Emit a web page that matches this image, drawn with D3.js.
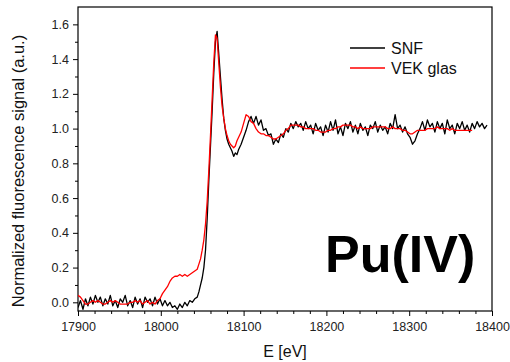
<!DOCTYPE html>
<html>
<head>
<meta charset="utf-8">
<script src="https://cdn.jsdelivr.net/npm/d3@7"></script>
<style>
  body { margin: 0; background: #fff; }
  svg { display: block; font-family: "Liberation Sans", Arial, sans-serif; }
</style>
</head>
<body>
<svg id="chart" width="510" height="362"></svg>
<script>
// energy grid [eV] shared by both spectra
const energy = [
  17900, 17903, 17906, 17909, 17912, 17915, 17918, 17921, 17924, 17927,
  17930, 17933, 17936, 17939, 17942, 17945, 17948, 17951, 17954, 17957,
  17960, 17963, 17966, 17969, 17972, 17975, 17978, 17981, 17984, 17987,
  17990, 17993, 17996, 17999, 18002, 18005, 18008, 18011, 18014, 18017,
  18020, 18023, 18026, 18029, 18032, 18035, 18038, 18041, 18044,
  18046, 18048, 18050, 18052, 18054, 18056, 18058, 18060, 18062, 18064,
  18066, 18068, 18070, 18072, 18074, 18076, 18078, 18080, 18082, 18084,
  18086, 18088, 18090, 18092, 18094,
  18097, 18100, 18103, 18106, 18109, 18112, 18115, 18118, 18121, 18124,
  18127, 18130, 18133, 18136, 18139, 18142, 18145, 18148, 18151, 18154,
  18157, 18160, 18163, 18166, 18169, 18172, 18175, 18178, 18181, 18184,
  18187, 18190, 18193, 18196, 18199, 18202, 18205, 18208, 18211, 18214,
  18217, 18220, 18223, 18226, 18229, 18232, 18235, 18238, 18241, 18244,
  18247, 18250, 18253, 18256, 18259, 18262, 18265, 18268, 18271, 18274,
  18277, 18280, 18283, 18286, 18289, 18292, 18295, 18298, 18301, 18304,
  18307, 18310, 18313, 18316, 18319, 18322, 18325, 18328, 18331, 18334,
  18337, 18340, 18343, 18346, 18349, 18352, 18355, 18358, 18361, 18364,
  18367, 18370, 18373, 18376, 18379, 18382, 18385, 18388, 18391, 18394
];

// SNF (black)
const snf = [
  -0.03, 0.01, -0.04, 0.02, -0.02, 0.03, -0.01, 0.04, 0.00, 0.03,
  -0.02, 0.02, -0.01, 0.04, -0.02, 0.01, -0.03, 0.02, 0.00, 0.04,
  -0.02, 0.01, -0.03, 0.03, -0.01, 0.02, -0.03, 0.03, 0.00, 0.02,
  -0.02, 0.03, -0.01, 0.02, -0.02, 0.01, -0.02, 0.00, -0.03, -0.02,
  -0.04, -0.01, -0.03, 0.00, -0.02, 0.01, 0.00, 0.02, 0.03,
  0.06, 0.10, 0.14, 0.20, 0.30, 0.48, 0.70, 0.90, 1.10, 1.32,
  1.50, 1.56, 1.43, 1.30, 1.17, 1.06, 0.99, 0.94, 0.91, 0.89,
  0.87, 0.84, 0.86, 0.85, 0.88,
  0.91, 0.95, 0.99, 1.04, 1.07, 1.03, 1.07, 1.02, 1.05, 0.99,
  1.00, 0.96, 0.97, 0.91, 0.94, 0.92, 0.97, 0.95, 1.00, 0.98,
  1.03, 1.00, 1.04, 1.01, 1.03, 0.99, 1.04, 1.00, 1.02, 0.97,
  1.03, 0.99, 1.01, 0.96, 1.02, 0.98, 1.04, 0.99, 1.05, 0.97,
  1.01, 0.96, 1.03, 1.00, 1.04, 0.98, 1.02, 0.97, 1.03, 0.99,
  1.01, 0.96, 1.02, 1.00, 1.04, 0.98, 1.02, 0.99, 1.01, 0.97,
  1.03, 1.00, 1.08, 1.00, 1.02, 0.98, 1.01, 0.97, 0.95, 0.91,
  0.93, 0.97, 1.00, 1.04, 0.99, 1.05, 1.01, 1.03, 0.98, 1.04,
  1.00, 1.03, 0.97, 1.05, 1.00, 1.02, 0.97, 1.03, 1.00, 1.04,
  0.99, 1.02, 0.98, 1.03, 1.00, 1.04, 1.01, 1.03, 1.00, 1.02
];

// VEK glas (red), ends at 18376 eV
const vekGlas = [
  0.04, 0.03, 0.01, -0.01, -0.01, 0.00, 0.01, 0.00, 0.01, 0.00,
  -0.01, -0.01, 0.00, 0.01, 0.00, 0.01, 0.00, -0.01, -0.01, -0.01,
  -0.01, 0.00, 0.00, 0.01, 0.00, 0.01, -0.01, 0.00, 0.01, -0.01,
  0.00, -0.01, 0.01, 0.02, 0.05, 0.07, 0.09, 0.12, 0.14, 0.15,
  0.15, 0.16, 0.15, 0.16, 0.15, 0.16, 0.17, 0.18, 0.19,
  0.22, 0.25, 0.30, 0.36, 0.45, 0.58, 0.76, 0.96, 1.17, 1.38,
  1.54, 1.52, 1.38, 1.24, 1.13, 1.06, 1.00, 0.96, 0.93, 0.91,
  0.90, 0.89, 0.90, 0.93, 0.95,
  0.98, 1.03, 1.08, 1.07, 1.04, 1.03, 1.00, 0.98, 0.97, 0.97,
  0.96, 0.96, 0.95, 0.94, 0.94, 0.95, 0.96, 0.97, 0.99, 1.00,
  1.02, 1.02, 1.02, 1.02, 1.01, 1.01, 1.00, 1.00, 1.00, 1.00,
  0.99, 0.99, 0.98, 0.98, 0.98, 0.99, 0.99, 1.00, 1.00, 1.01,
  1.01, 1.02, 1.02, 1.02, 1.02, 1.01, 1.01, 1.00, 1.01, 1.00,
  1.00, 1.00, 1.00, 1.01, 1.01, 1.01, 1.01, 1.01, 1.01, 1.00,
  1.00, 1.01, 1.00, 1.00, 1.00, 0.99, 0.99, 0.98, 0.97, 0.97,
  0.98, 0.99, 0.99, 0.99, 0.99, 1.00, 1.00, 1.00, 1.00, 1.01,
  1.00, 1.00, 1.00, 1.00, 0.99, 1.00, 0.99, 0.99, 0.99, 0.99,
  0.99, 0.99, 0.99, 0.99
];

const xTicks = [17900, 18000, 18100, 18200, 18300, 18400];
const xMinor = [17920, 17940, 17960, 17980, 18020, 18040, 18060, 18080, 18120, 18140, 18160, 18180,
  18220, 18240, 18260, 18280, 18320, 18340, 18360, 18380];
const yTicks = [0.0, 0.2, 0.4, 0.6, 0.8, 1.0, 1.2, 1.4, 1.6];
const yMinor = [0.1, 0.3, 0.5, 0.7, 0.9, 1.1, 1.3, 1.5];
const seriesNames = ['SNF', 'VEK glas'];
const seriesColors = ['#000000', '#ff0000'];

const plotL = 78, plotR = 492, plotT = 7, plotB = 311;

const svg = d3.select('#chart');

const x = d3.scaleLinear().domain([17900, 18400]).range([plotL, plotR]);
const y = d3.scaleLinear().domain([-0.05, 1.7]).range([plotB, plotT]);

// axes (major + minor ticks)
svg.append('g')
  .attr('transform', `translate(0,${plotB})`)
  .call(d3.axisBottom(x).tickValues(xTicks).tickFormat(d3.format('d')).tickSize(5).tickPadding(6))
  .call(g => g.selectAll('text').attr('font-size', 12.5).attr('fill', '#222'));
svg.append('g')
  .attr('transform', `translate(0,${plotB})`)
  .call(d3.axisBottom(x).tickValues(xMinor).tickFormat('').tickSize(3));

svg.append('g')
  .attr('transform', `translate(${plotL},0)`)
  .call(d3.axisLeft(y).tickValues(yTicks).tickFormat(d3.format('.1f')).tickSize(5).tickPadding(4))
  .call(g => g.selectAll('text').attr('font-size', 12.5).attr('fill', '#222'));
svg.append('g')
  .attr('transform', `translate(${plotL},0)`)
  .call(d3.axisLeft(y).tickValues(yMinor).tickFormat('').tickSize(3));

svg.selectAll('g').attr('font-family', null);
svg.selectAll('.domain').remove();

// frame
svg.append('rect')
  .attr('x', plotL).attr('y', plotT)
  .attr('width', plotR - plotL).attr('height', plotB - plotT)
  .attr('fill', 'none').attr('stroke', '#000').attr('stroke-width', 1.2);

// curves
const line = d3.line()
  .x(d => x(d[0]))
  .y(d => y(d[1]));

svg.append('clipPath').attr('id', 'plotclip')
  .append('rect').attr('x', plotL).attr('y', plotT).attr('width', plotR - plotL).attr('height', plotB - plotT);

const series = [snf, vekGlas];
series.forEach((vals, i) => {
  svg.append('path')
    .datum(vals.map((v, j) => [energy[j], v]))
    .attr('clip-path', 'url(#plotclip)')
    .attr('fill', 'none')
    .attr('stroke', seriesColors[i])
    .attr('stroke-width', 1.3)
    .attr('stroke-linejoin', 'round')
    .attr('d', line);
});

// legend
const legend = svg.append('g');
seriesNames.forEach((name, i) => {
  const ly = 48 + i * 20;
  legend.append('line')
    .attr('x1', 350).attr('x2', 385).attr('y1', ly).attr('y2', ly)
    .attr('stroke', seriesColors[i]).attr('stroke-width', 1.5);
  legend.append('text')
    .attr('x', 391).attr('y', ly + 6)
    .attr('font-size', 16).attr('fill', '#111')
    .text(name);
});

// axis titles
svg.append('text')
  .attr('x', 285).attr('y', 357)
  .attr('text-anchor', 'middle')
  .attr('font-size', 16).attr('fill', '#111')
  .text('E [eV]');

svg.append('text')
  .attr('transform', `translate(24,${(plotT + plotB) / 2 + 12}) rotate(-90)`)
  .attr('text-anchor', 'middle')
  .attr('font-size', 16.5).attr('fill', '#111')
  .text('Normalized fluorescence signal (a.u.)');

// sample label
svg.append('text')
  .attr('x', 325).attr('y', 272)
  .attr('font-size', 52).attr('font-weight', 'bold').attr('fill', '#000')
  .text('Pu(IV)');
</script>
</body>
</html>
